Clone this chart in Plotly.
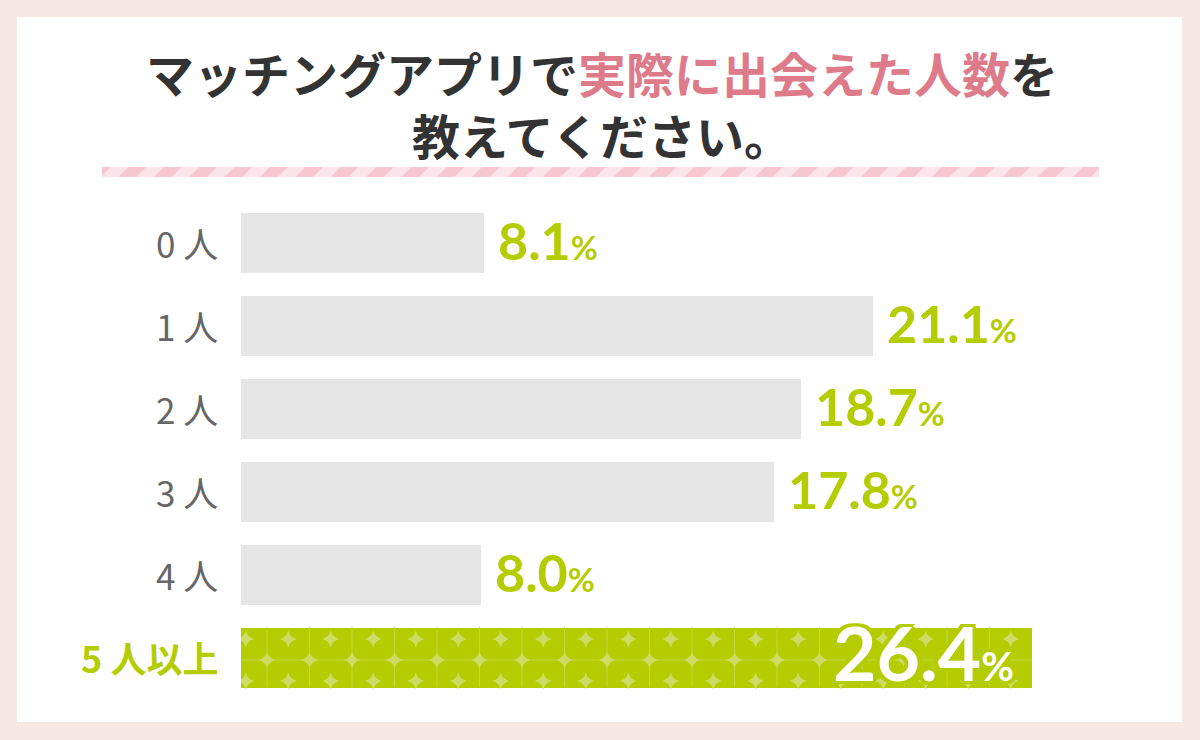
import plotly.graph_objects as go

# ---------------- data ----------------
categories = ["0人", "1人", "2人", "3人", "4人", "5人以上"]
values = [8.1, 21.1, 18.7, 17.8, 8.0, 26.4]
title_line1_a = "マッチングアプリで"
title_highlight = "実際に出会えた人数"
title_line1_b = "を"
title_line2 = "教えてください。"
unit = "%"

# ---------------- style ----------------
W, H = 1200, 740
PINK_BG = "#f8e8e5"
GREEN = "#b4cc00"
GRID_GREEN = "#c4d746"
STAR_GREEN = "#cedc66"
GRAY_BAR = "#e6e6e6"
LABEL_GRAY = "#666666"
TITLE_DARK = "#333333"
TITLE_PINK = "#de7b8a"
JP = "Noto Sans CJK JP"
NUM = "Lato"

def px(x):
    return x / W

def py(y):
    return 1 - y / H

n = len(categories)
idx = list(range(n))
hl = n - 1  # highlighted category (last)

x_left, x_right = 241, 1182
px_per_unit = 29.95
x_max = (x_right - x_left) / px_per_unit
pitch = 83.0
bar_h = 60.0
top_center = 242.0
y_top = top_center - pitch / 2
y_bot = top_center + pitch * (n - 1) + pitch / 2

fig = go.Figure()

colors = [GRAY_BAR] * n
colors[hl] = GREEN
fig.add_trace(go.Bar(
    x=values, y=idx, orientation="h",
    marker=dict(color=colors, line=dict(width=0)),
    width=bar_h / pitch, hoverinfo="skip", showlegend=False,
))

# decorative grid + sparkles on highlighted bar
cell = 42.5 / px_per_unit
first_line = (267 - x_left) / px_per_unit
half = bar_h / pitch / 2
yc = hl
mid_y = yc + 3 / pitch
gx, gy = [], []
k = 0
while first_line + k * cell < values[hl]:
    xv = first_line + k * cell
    gx += [xv, xv, None]
    gy += [yc - half, yc + half, None]
    k += 1
gx += [0, values[hl], None]
gy += [mid_y, mid_y, None]
fig.add_trace(go.Scatter(
    x=gx, y=gy, mode="lines", line=dict(color=GRID_GREEN, width=1),
    hoverinfo="skip", showlegend=False,
))
sx, sy = [], []
k = 0
while True:
    c = first_line - cell / 2 + k * cell
    if c > values[hl]:
        break
    sx += [c, c]
    sy += [yc - 18 / pitch, yc + 24 / pitch]
    ln = first_line + k * cell
    if ln < values[hl]:
        sx.append(ln)
        sy.append(mid_y)
    k += 1
fig.add_trace(go.Scatter(
    x=sx, y=sy, mode="markers",
    marker=dict(symbol="star-diamond", size=12, color=STAR_GREEN, line=dict(width=0)),
    hoverinfo="skip", showlegend=False,
))

# striped divider
fig.add_trace(go.Bar(
    x=[1], y=[0], orientation="h", width=1, xaxis="x2", yaxis="y2",
    marker=dict(color="#f6c6d1", line=dict(width=0),
                pattern=dict(shape="/", size=25, solidity=0.5,
                             bgcolor="#fbe5ea", fgcolor="#f6c6d1", fillmode="replace")),
    hoverinfo="skip", showlegend=False,
))

annotations = []
# title (two lines in one text block)
annotations.append(dict(
    x=px(602), y=py(103), xref="paper", yref="paper", xanchor="center", yanchor="middle",
    text=(f"{title_line1_a}<span style='color:{TITLE_PINK}'>{title_highlight}</span>"
          f"{title_line1_b}<br>{title_line2}"),
    showarrow=False, align="center",
    font=dict(family=JP, size=48, color=TITLE_DARK, weight=700),
))

# category labels
for i, cat in enumerate(categories):
    label = cat[0] + " " + cat[1:]
    if i == hl:
        annotations.append(dict(
            x=px(220), y=i, xref="paper", yref="y", xanchor="right", yanchor="middle",
            text=label, showarrow=False,
            font=dict(family=JP, size=36, color=GREEN, weight=700),
        ))
    else:
        annotations.append(dict(
            x=px(220), y=i, xref="paper", yref="y", xanchor="right", yanchor="middle",
            text=label, showarrow=False,
            font=dict(family=JP, size=35, color=LABEL_GRAY, weight=400),
        ))

# value labels
for i, v in enumerate(values):
    if i == hl:
        sh = ", ".join(f"{a}px {b}px 0 {GREEN}" for a in (-3, 0, 3) for b in (-3, 0, 3))
        annotations.append(dict(
            x=v, y=i, xref="x", yref="y", xanchor="right", yanchor="middle",
            xshift=-16, yshift=5,
            text=f"{v:.1f}<span style='font-size:40px'>{unit}</span>",
            showarrow=False,
            font=dict(family=NUM, size=75, color="white", weight=700, shadow=sh),
        ))
    else:
        annotations.append(dict(
            x=v, y=i, xref="x", yref="y", xanchor="left", yanchor="middle",
            xshift=12, yshift=2,
            text=f"{v:.1f}<span style='font-size:33px'>{unit}</span>",
            showarrow=False,
            font=dict(family=NUM, size=52, color=GREEN, weight=700),
        ))

fig.update_layout(
    width=W, height=H,
    margin=dict(l=0, r=0, t=0, b=0),
    paper_bgcolor=PINK_BG, plot_bgcolor="rgba(0,0,0,0)",
    bargap=0,
    xaxis=dict(domain=[px(x_left), px(x_right)], range=[0, x_max],
               visible=False, fixedrange=True),
    yaxis=dict(domain=[py(y_bot), py(y_top)], range=[n - 0.5, -0.5],
               visible=False, fixedrange=True),
    xaxis2=dict(domain=[px(102), px(1099)], range=[0, 1], visible=False,
                anchor="y2", fixedrange=True),
    yaxis2=dict(domain=[py(177), py(167)], range=[-0.5, 0.5], visible=False,
                anchor="x2", fixedrange=True),
    shapes=[dict(type="rect", xref="paper", yref="paper",
                 x0=px(17), x1=px(1182), y0=py(722), y1=py(17),
                 fillcolor="white", line=dict(width=0), layer="below")],
    annotations=annotations,
    showlegend=False,
)

fig.write_html("out.html", config={"displayModeBar": False})
